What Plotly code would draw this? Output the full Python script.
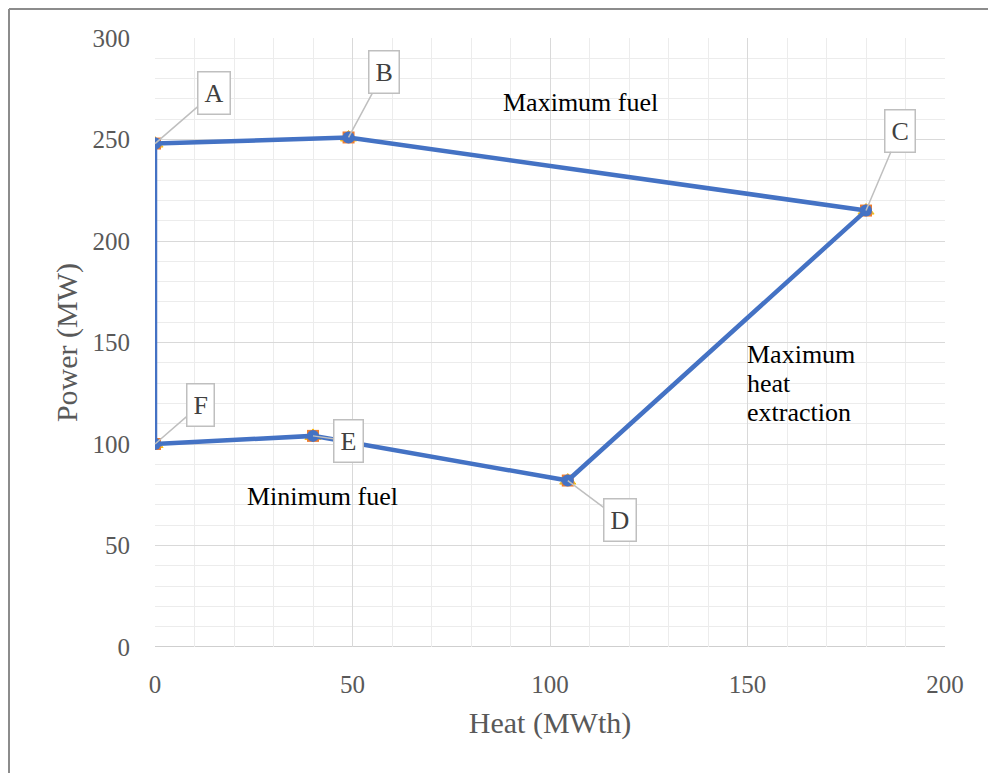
import plotly.graph_objects as go

# Data
point_labels = ["A", "B", "C", "D", "E", "F"]
heat = [0, 49, 180, 104.5, 40, 0]
power = [248, 251, 215, 82, 104, 100]

# closed polygon path (A-B-C-D-E-F-A)
path_heat = heat + [heat[0]]
path_power = power + [power[0]]

x_ticks = [0, 50, 100, 150, 200]
y_ticks = [0, 50, 100, 150, 200, 250, 300]

FONT = "Liberation Serif"
GRAY_TXT = "#595959"
BLUE = "#4472C4"

ML, MR, MT, MB = 147, 59, 30, 134
PW = 996 - ML - MR
PH = 773 - MT - MB

fig = go.Figure()
fig.add_trace(go.Scatter(x=heat, y=power, mode="markers",
                         marker=dict(symbol="triangle-up", size=14, color="#A5A5A5",
                                     line=dict(width=1, color="#FFC000")),
                         showlegend=False, hoverinfo="skip"))
fig.add_trace(go.Scatter(x=heat, y=power, mode="markers",
                         marker=dict(symbol="square", size=12, color="#ED7D31"),
                         showlegend=False, hoverinfo="skip"))
fig.add_trace(go.Scatter(x=path_heat, y=path_power, mode="lines+markers",
                         line=dict(color=BLUE, width=4.5),
                         marker=dict(symbol="circle", size=12, color=BLUE),
                         showlegend=False))

# callout offsets (pixels) for each point label
offsets = {"A": (59, -51), "B": (35, -65), "C": (34, -80),
           "D": (52, 39), "E": (35, 5), "F": (45, -39)}
for lab, hx, py in zip(point_labels, heat, power):
    ax, ay = offsets[lab]
    fig.add_annotation(x=hx, y=py, text=lab, showarrow=True, ax=ax, ay=ay,
                       arrowhead=0, arrowwidth=1.5, arrowcolor="#BFBFBF",
                       bgcolor="white", bordercolor="#BFBFBF", borderwidth=1.5,
                       borderpad=6, font=dict(family=FONT, size=26, color="#404040"))

txt_font = dict(family=FONT, size=26, color="black")
fig.add_annotation(x=107.6, y=268, text="Maximum fuel", showarrow=False, font=txt_font)
fig.add_annotation(x=42.5, y=74.3, text="Minimum fuel", showarrow=False, font=txt_font)
for i, t in enumerate(["Maximum", "heat", "extraction"]):
    fig.add_annotation(x=149.4, y=129.9, yshift=29 - 29 * i, text=t, showarrow=False,
                       xanchor="left", font=txt_font)

# outer border (left and top)
bx = (1 - ML) / PW
by = 1 + (MT - 1) / PH
fig.add_shape(type="line", xref="paper", yref="paper", x0=bx, x1=bx,
              y0=by, y1=-MB / PH - 0.02, line=dict(color="#8C8C8C", width=2))
fig.add_shape(type="line", xref="paper", yref="paper", x0=bx, x1=1 + MR / PW,
              y0=by, y1=by, line=dict(color="#8C8C8C", width=2))

axis_common = dict(showline=False, zeroline=False, gridcolor="#D9D9D9", gridwidth=1,
                   tickfont=dict(family=FONT, size=25, color=GRAY_TXT), ticks="")
fig.update_xaxes(range=[0, 200], tickvals=x_ticks, ticktext=[str(v) for v in x_ticks],
                 minor=dict(dtick=10, showgrid=True, gridcolor="#ECECEC", gridwidth=1),
                 title=dict(text="Heat (MWth)", font=dict(family=FONT, size=30, color=GRAY_TXT), standoff=14),
                 ticklabelstandoff=20, **axis_common)
fig.update_yaxes(range=[0, 300], tickvals=y_ticks, ticktext=[str(v) for v in y_ticks],
                 minor=dict(dtick=10, showgrid=True, gridcolor="#ECECEC", gridwidth=1),
                 title=dict(text="Power (MW)", font=dict(family=FONT, size=30, color=GRAY_TXT), standoff=6),
                 ticklabelstandoff=24, **axis_common)
# darker baseline at y=0
fig.add_shape(type="line", xref="paper", yref="y", x0=0, x1=1, y0=0, y1=0,
              line=dict(color="#BFBFBF", width=1.5), layer="below")

fig.update_layout(width=996, height=773, plot_bgcolor="white", paper_bgcolor="white",
                  margin=dict(l=ML, r=MR, t=MT, b=MB), showlegend=False)

fig.write_html("out.html")
